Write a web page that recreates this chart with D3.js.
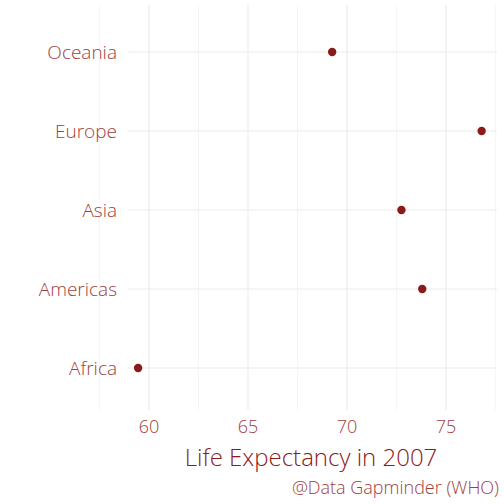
<!DOCTYPE html>
<html><head><meta charset="utf-8">
<script src="https://cdn.jsdelivr.net/npm/d3@7"></script>
<style>body{margin:0;background:#fff}text{font-family:"Open Sans",sans-serif;font-weight:300}</style>
</head><body>
<script>
// continents and their life expectancy
var continents = ['Africa', 'Americas', 'Asia', 'Europe', 'Oceania'];
var lifeExp = [59.45, 73.8, 72.75, 76.8, 69.25];
var xTicks = [60, 65, 70, 75];

var W = 504, H = 504;
var svg = d3.select('body').append('svg').attr('width', W).attr('height', H);

var x = d3.scaleLinear().domain([60, 75]).range([149, 446]);
var y = d3.scalePoint().domain(continents.slice().reverse()).range([52, 368]);
var textCol = '#a0403e', dotCol = '#8b1a1a';

// grid
var minor = [57.5, 62.5, 67.5, 72.5, 77.5];
svg.selectAll('.minor').data(minor).enter().append('line')
  .attr('x1', x).attr('x2', x).attr('y1', 5).attr('y2', 410)
  .attr('stroke', '#f2f2f2').attr('stroke-width', 0.8);
svg.selectAll('.vgrid').data(xTicks).enter().append('line')
  .attr('x1', x).attr('x2', x).attr('y1', 5).attr('y2', 410)
  .attr('stroke', '#ebebeb').attr('stroke-width', 1.1);
svg.selectAll('.hgrid').data(continents).enter().append('line')
  .attr('x1', 128).attr('x2', 497).attr('y1', y).attr('y2', y)
  .attr('stroke', '#ebebeb').attr('stroke-width', 1.1);

// axes labels
svg.selectAll('.ylab').data(continents).enter().append('text')
  .attr('x', 117).attr('y', function(d) { return y(d); }).attr('dy', '0.35em')
  .attr('text-anchor', 'end').attr('fill', textCol).attr('font-size', 19).text(function(d) { return d; });
svg.selectAll('.xlab').data(xTicks).enter().append('text')
  .attr('x', x).attr('y', 433).attr('text-anchor', 'middle')
  .attr('fill', textCol).attr('font-size', 18).text(function(d) { return d; });

// dots
svg.selectAll('.dot').data(continents).enter().append('circle')
  .attr('cx', function(d, i) { return x(lifeExp[i]); })
  .attr('cy', function(d) { return y(d); })
  .attr('r', 4.2).attr('fill', dotCol);

svg.append('text').attr('x', 311).attr('y', 466).attr('text-anchor', 'middle')
  .attr('fill', dotCol).attr('font-size', 24).text('Life Expectancy in 2007');
svg.append('text').attr('x', 499).attr('y', 494).attr('text-anchor', 'end')
  .attr('fill', textCol).attr('font-size', 18).text('@Data Gapminder (WHO)');
</script>
</body></html>
